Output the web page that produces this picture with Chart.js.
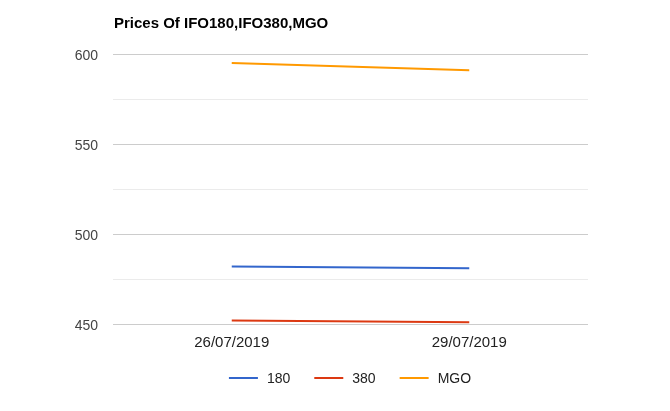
<!DOCTYPE html>
<html>
<head>
<meta charset="utf-8">
<title>Prices Of IFO180,IFO380,MGO</title>
<script src="https://cdn.jsdelivr.net/npm/chart.js@4/dist/chart.umd.min.js"></script>
<style>
  html, body { margin: 0; padding: 0; background: #fff; }
  #wrap { width: 670px; height: 411px; }
</style>
</head>
<body>
<div id="wrap"><canvas id="priceChart" width="670" height="411"></canvas></div>
<script>
// chart data
const dates = ['26/07/2019', '29/07/2019'];
const ifo180 = [482, 481];
const ifo380 = [452, 451];
const mgo = [595, 591];
const yTicks = [450, 500, 550, 600];

const FONT = "Arial, 'Liberation Sans', sans-serif";

// Title drawn at the top left of the plot area
const titlePlugin = {
    id: 'leftTitle',
    afterDraw(chart) {
        const ctx = chart.ctx;
        ctx.save();
        ctx.font = 'bold 15px ' + FONT;
        ctx.fillStyle = '#000';
        ctx.textBaseline = 'middle';
        ctx.textAlign = 'left';
        ctx.fillText('Prices Of IFO180,IFO380,MGO', chart.chartArea.left + 1, 23.5);
        ctx.restore();
    }
};

// Google-style legend: line swatch + label, centred under the plot
const legendPlugin = {
    id: 'bottomLegend',
    afterDraw(chart) {
        const ctx = chart.ctx;
        const sets = chart.data.datasets;
        const lineW = 29, gap = 10, itemGap = 23;
        ctx.save();
        ctx.font = '14px ' + FONT;
        const widths = sets.map(ds => lineW + gap + ctx.measureText(ds.label).width);
        const total = widths.reduce((a, b) => a + b, 0) + itemGap * (sets.length - 1);
        const area = chart.chartArea;
        let x = (area.left + area.right) / 2 - total / 2;
        const y = 378;
        sets.forEach((ds, i) => {
            ctx.strokeStyle = ds.borderColor;
            ctx.lineWidth = 2;
            ctx.beginPath();
            ctx.moveTo(x, y);
            ctx.lineTo(x + lineW, y);
            ctx.stroke();
            ctx.fillStyle = '#222';
            ctx.textBaseline = 'middle';
            ctx.textAlign = 'left';
            ctx.fillText(ds.label, x + lineW + gap - 1, y + 1);
            x += widths[i] + itemGap;
        });
        ctx.restore();
    }
};

const makeSet = (label, data, color) => ({
    label,
    data,
    borderColor: color,
    backgroundColor: color,
    borderWidth: 2,
    pointRadius: 0,
    pointHoverRadius: 0,
    tension: 0,
    fill: false
});

const ctx = document.getElementById('priceChart').getContext('2d');
const priceChart = new Chart(ctx, {
    type: 'line',
    data: {
        labels: dates,
        datasets: [
            makeSet('180', ifo180, '#3366cc'),
            makeSet('380', ifo380, '#dc3912'),
            makeSet('MGO', mgo, '#ff9900')
        ]
    },
    options: {
        responsive: false,
        animation: false,
        layout: { padding: { top: 54, right: 82, left: 0, bottom: 51 } },
        plugins: {
            title: { display: false },
            tooltip: { enabled: false },
            legend: { display: false }
        },
        scales: {
            x: {
                offset: true,
                grid: { display: false, drawTicks: false },
                border: { display: false },
                ticks: {
                    color: '#222',
                    font: { family: FONT, size: 15 },
                    padding: 10,
                    maxRotation: 0
                },
                afterFit(scale) { scale.height = 36; }
            },
            y: {
                min: 450,
                max: 600,
                border: { display: false },
                grid: {
                    drawTicks: false,
                    color: (c) => (c.tick && yTicks.includes(c.tick.value)) ? '#cccccc' : '#ebebeb'
                },
                ticks: {
                    stepSize: 25,
                    color: '#444',
                    padding: 15,
                    labelOffset: 2,
                    font: { family: FONT, size: 14 },
                    callback: (v) => yTicks.includes(v) ? String(v) : ''
                },
                afterFit(scale) { scale.width = 113; }
            }
        }
    },
    plugins: [titlePlugin, legendPlugin]
});
</script>
</body>
</html>
